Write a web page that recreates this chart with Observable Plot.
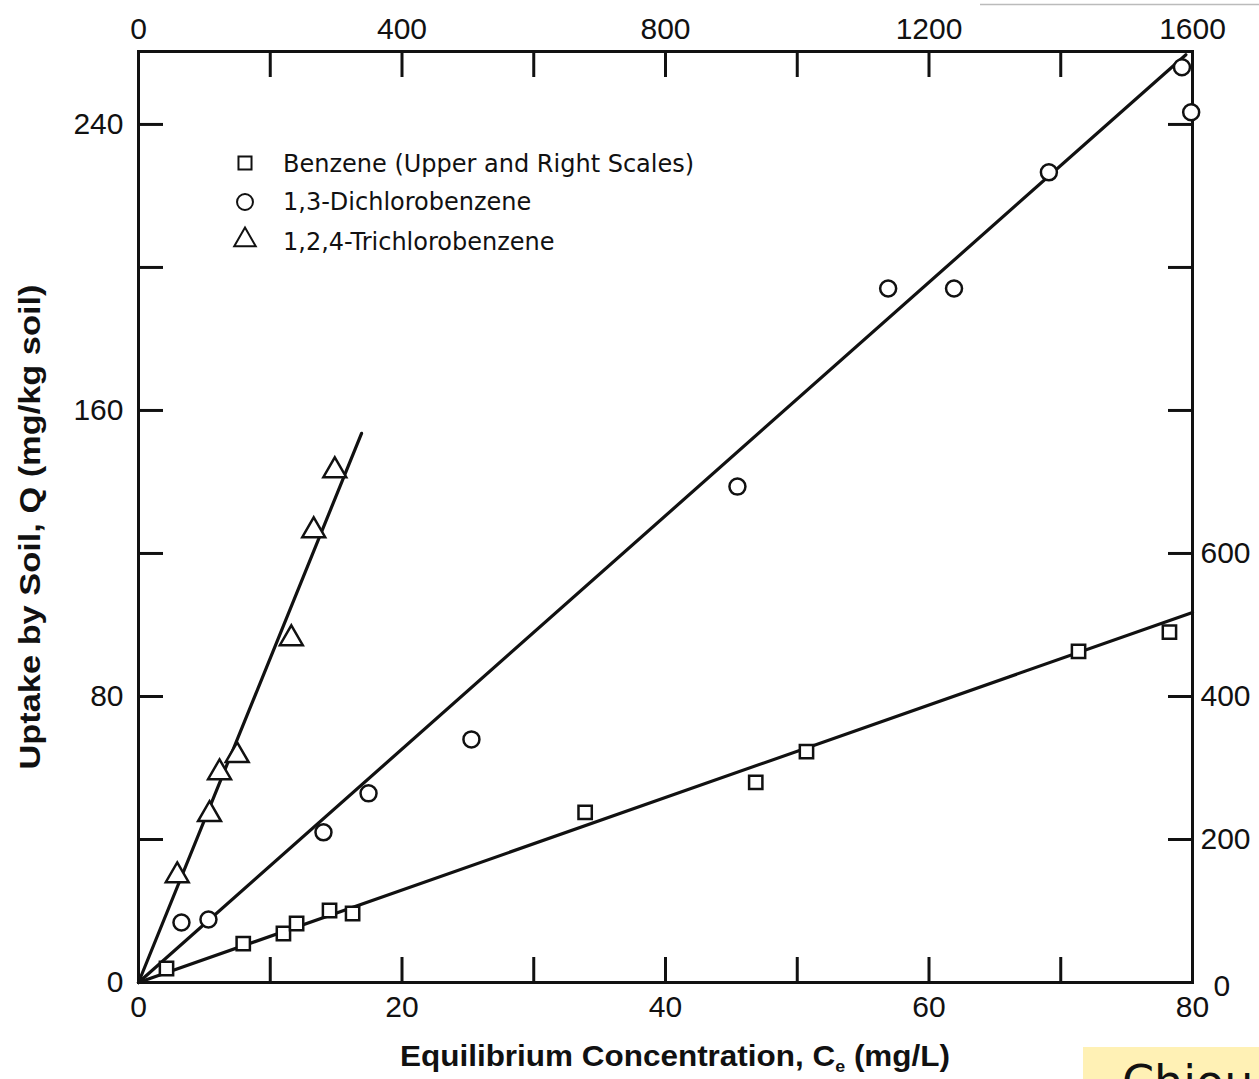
<!DOCTYPE html>
<html><head><meta charset="utf-8">
<script src="https://cdn.jsdelivr.net/npm/d3@7"></script>
<script src="https://cdn.jsdelivr.net/npm/@observablehq/plot@0.6"></script>
<style>
html,body{margin:0;padding:0;background:#fff;overflow:hidden;}
#chart svg{display:block;}
</style></head><body><div id="chart"></div>
<script>
// ---- data ----
// Benzene: upper scale (Ce, mg/L) and right scale (Q, mg/kg soil)
const benzeneCe = [42.5, 159, 220, 240, 290, 325, 678, 937, 1014, 1427, 1565];
const benzeneQ  = [19.6, 54.5, 68.5, 82.5, 100.7, 96.5, 238, 280, 323, 463, 490];
// 1,3-Dichlorobenzene: lower and left scales
const dcbCe = [3.26, 5.31, 14.04, 17.46, 25.27, 45.46, 56.9, 61.9, 69.1, 79.2, 79.9];
const dcbQ  = [16.8, 17.6, 42.0, 52.9, 68.0, 138.7, 194.1, 194.1, 226.6, 256.0, 243.4];
// 1,2,4-Trichlorobenzene: lower and left scales
const tcbCe = [2.94, 5.39, 6.15, 7.49, 11.6, 13.3, 14.9];
const tcbQ  = [29.9, 47.0, 58.7, 63.5, 96.2, 126.4, 143.2];
// fitted lines (end points)
const benzeneFitCe = [0, 1600];
const benzeneFitQ  = [0, 517.5];
const dcbFitCe = [0, 79.5];
const dcbFitQ  = [0, 259.5];
const tcbFitCe = [0, 16.93];
const tcbFitQ  = [0, 153.6];
// scales relation
const UPPER_PER_LOWER = 20;   // 1600 upper == 80 lower
const RIGHT_PER_LEFT = 5;     // 200 right == 40 left
// ticks
const bottomTicks = [0, 10, 20, 30, 40, 50, 60, 70, 80];
const bottomTickLabels = [0, 20, 40, 60, 80];
const topTicks = [0, 200, 400, 600, 800, 1000, 1200, 1400, 1600];
const topTickLabels = [0, 400, 800, 1200, 1600];
const leftTicks = [0, 40, 80, 120, 160, 200, 240];
const leftTickLabels = [0, 80, 160, 240];
const rightTicks = [0, 200, 400, 600, 800, 1000, 1200];
const rightTickLabels = [200, 400, 600];
const rightZeroLabel = [0];
const legendLabels = ["Benzene (Upper and Right Scales)", "1,3-Dichlorobenzene", "1,2,4-Trichlorobenzene"];
const legendSymbols = ["square", "circle", "triangle"];
const xTitle = "Equilibrium Concentration, C";
const xTitleSub = "e";
const xTitleEnd = " (mg/L)";
const yTitle = "Uptake by Soil, Q (mg/kg soil)";
const credit = "Chiou";

const zip = (xs, ys) => xs.map((x, i) => ({x, y: ys[i]}));
const benzene = zip(benzeneCe, benzeneQ);
const dcb = zip(dcbCe, dcbQ);
const tcb = zip(tcbCe, tcbQ);
const benzeneFit = zip(benzeneFitCe, benzeneFitQ);
const dcbFit = zip(dcbFitCe, dcbFitQ);
const tcbFit = zip(tcbFitCe, tcbFitQ);

const tickFont = "'Liberation Sans', Arial, sans-serif";
const TS = -25;
const axisCommon = {fontSize: 30, fontFamily: tickFont, tickSize: TS, strokeWidth: 3, label: null, stroke: "#111"};

const dotStyle = {fill: "white", stroke: "#111", strokeWidth: 2.5, r: 8};

const plot = Plot.plot({
  width: 1259, height: 1079,
  marginLeft: 138, marginRight: 67, marginTop: 51, marginBottom: 97,
  style: {fontFamily: tickFont, color: "#111", background: "white", overflow: "hidden"},
  x: {domain: [0, 80]},
  y: {domain: [0, 260.4]},
  marks: [
    Plot.axisX({...axisCommon, anchor: "bottom", ticks: bottomTicks,
      tickFormat: d => bottomTickLabels.includes(d) ? String(d) : "", tickPadding: 38}),
    Plot.axisX({...axisCommon, anchor: "top", ticks: topTicks.map(v => v / UPPER_PER_LOWER),
      tickFormat: d => topTickLabels.includes(Math.round(d * UPPER_PER_LOWER)) ? String(Math.round(d * UPPER_PER_LOWER)) : "", tickPadding: 38}),
    Plot.axisY({...axisCommon, anchor: "left", ticks: leftTicks,
      tickFormat: d => leftTickLabels.includes(d) ? String(d) : "", tickPadding: 40}),
    Plot.axisY({...axisCommon, anchor: "right", ticks: rightTicks.map(v => v / RIGHT_PER_LEFT),
      tickFormat: d => rightTickLabels.includes(Math.round(d * RIGHT_PER_LEFT)) ? String(Math.round(d * RIGHT_PER_LEFT)) : "", tickPadding: 33}),
    Plot.axisY({fontSize: 30, fontFamily: tickFont, label: null, anchor: "right", ticks: rightZeroLabel.map(v => v / RIGHT_PER_LEFT),
      tickSize: 0, tickPadding: 21, dy: 4, tickFormat: d => String(Math.round(d * RIGHT_PER_LEFT))}),
    Plot.frame({stroke: "#111", strokeWidth: 3}),
    Plot.line(tcbFit, {x: "x", y: "y", stroke: "#111", strokeWidth: 3.2}),
    Plot.line(dcbFit, {x: "x", y: "y", stroke: "#111", strokeWidth: 3.2}),
    Plot.line(benzeneFit, {x: d => d.x / UPPER_PER_LOWER, y: d => d.y / RIGHT_PER_LEFT, stroke: "#111", strokeWidth: 3.2}),
    Plot.dot(tcb, {x: "x", y: "y", symbol: "triangle", ...dotStyle, r: 8.5}),
    Plot.dot(dcb, {x: "x", y: "y", symbol: "circle", ...dotStyle}),
    Plot.dot(benzene, {x: d => d.x / UPPER_PER_LOWER, y: d => d.y / RIGHT_PER_LEFT, symbol: "square", ...dotStyle, r: 7.5})
  ]
});
document.getElementById("chart").appendChild(plot);

const svg = d3.select(plot);

// legend
const lg = svg.append("g").attr("class", "legend").attr("text-anchor", "start");
const legendBaselines = [172, 210, 250];
const legendSymCY = [163, 202, 240];
const symMap = {square: d3.symbolSquare, circle: d3.symbolCircle, triangle: d3.symbolTriangle};
const symSize = {square: 170, circle: 200, triangle: 200};
legendLabels.forEach((lab, i) => {
  lg.append("path")
    .attr("d", d3.symbol(symMap[legendSymbols[i]], symSize[legendSymbols[i]])())
    .attr("transform", `translate(245,${legendSymCY[i]})`)
    .attr("fill", "white").attr("stroke", "#111").attr("stroke-width", 2);
  lg.append("text").attr("x", 283).attr("y", legendBaselines[i]).attr("text-anchor", "start")
    .attr("font-family", "'DejaVu Sans', sans-serif").attr("font-size", 24).attr("fill", "#111")
    .text(lab);
});

// axis titles
const xt = svg.append("text").attr("x", 675).attr("y", 1066).attr("text-anchor", "middle")
  .attr("font-family", "'Liberation Sans', Arial, sans-serif").attr("font-weight", "bold")
  .attr("font-size", 30).attr("fill", "#111")
  .attr("textLength", 550).attr("lengthAdjust", "spacingAndGlyphs");
xt.append("tspan").text(xTitle);
xt.append("tspan").attr("font-size", 17).attr("dy", 6).text(xTitleSub);
xt.append("tspan").attr("dy", -6).text(xTitleEnd);

svg.append("text").attr("transform", "translate(40,527) rotate(-90)").attr("text-anchor", "middle")
  .attr("font-family", "'Liberation Sans', Arial, sans-serif").attr("font-weight", "bold")
  .attr("font-size", 30).attr("fill", "#111")
  .attr("textLength", 485).attr("lengthAdjust", "spacingAndGlyphs")
  .text(yTitle);

// source tag (clipped at bottom right, as in the reference)
svg.append("rect").attr("x", 1083).attr("y", 1047).attr("width", 180).attr("height", 40).attr("fill", "#fff1b5");
svg.append("text").attr("x", 1122).attr("y", 1098).attr("text-anchor", "start").attr("font-family", "'DejaVu Sans', sans-serif")
  .attr("font-size", 46).attr("fill", "#111").text(credit);
// scan edge line at top right
svg.append("line").attr("x1", 980).attr("x2", 1259).attr("y1", 4.5).attr("y2", 4.5).attr("stroke", "#bbb").attr("stroke-width", 1.5);
</script></body></html>
